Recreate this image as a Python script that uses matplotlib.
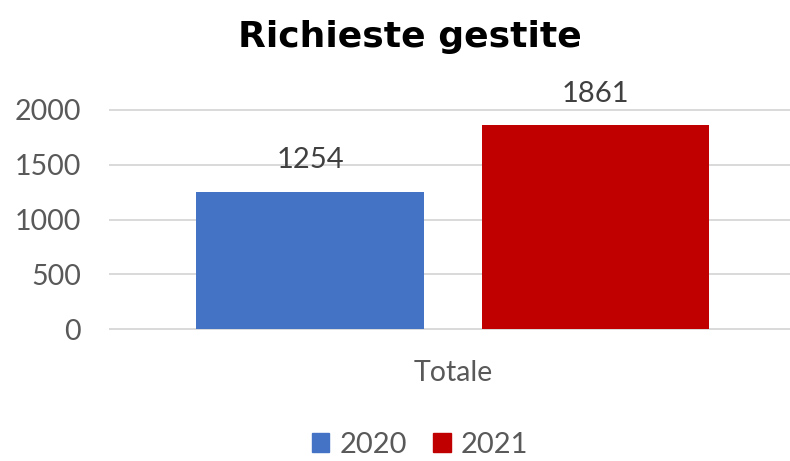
import matplotlib.pyplot as plt
from matplotlib.patches import Patch

plt.rcParams["font.family"] = ["Lato", "DejaVu Sans"]

# data
categories = ["Totale"]
series_names = ["2020", "2021"]
values = [1254, 1861]
colors = ["#4472C4", "#C00000"]
yticks = [0, 500, 1000, 1500, 2000]

fig = plt.figure(figsize=(7.9, 4.61), dpi=100)
ax = fig.add_axes([110 / 790, 1 - 329 / 461, 680 / 790, 219 / 461])

positions = [-0.5, 0.5]
bars = ax.bar(positions, values, width=0.795, color=colors, zorder=3)

for b, v in zip(bars, values):
    ax.annotate(str(v), (b.get_x() + b.get_width() / 2, v),
                xytext=(0, 17), textcoords="offset points",
                ha="center", va="baseline", fontsize=21, color="#404040")

ax.set_xlim(-1.2, 1.18)
ax.set_ylim(0, 2000)
ax.set_yticks(yticks)
ax.set_yticklabels([str(t) for t in yticks], fontsize=20.5, color="#595959")
ax.set_xticks([0])
ax.set_xticklabels(categories, fontsize=20.5, color="#595959")
ax.tick_params(axis="both", length=0)
ax.tick_params(axis="y", pad=21)
ax.tick_params(axis="x", pad=22)
ax.grid(axis="y", color="#d9d9d9", linewidth=1.4, zorder=0)
for gl in ax.get_ygridlines():
    gl.set_clip_on(False)
for s in ax.spines.values():
    s.set_visible(False)

fig.text(410 / 790, 1 - 47 / 461, "Richieste gestite", ha="center", va="baseline",
         fontsize=26, fontweight="bold", color="black", family="DejaVu Sans")

handles = [Patch(color=c, label=n) for c, n in zip(colors, series_names)]
fig.legend(handles=handles, loc="center", bbox_to_anchor=(420 / 790, 1 - 445 / 461),
           ncol=2, frameon=False, fontsize=21, handlelength=0.6, handleheight=0.6,
           handletextpad=0.35, columnspacing=0.9, labelcolor="#595959")

fig.savefig("out.png", dpi=100)
